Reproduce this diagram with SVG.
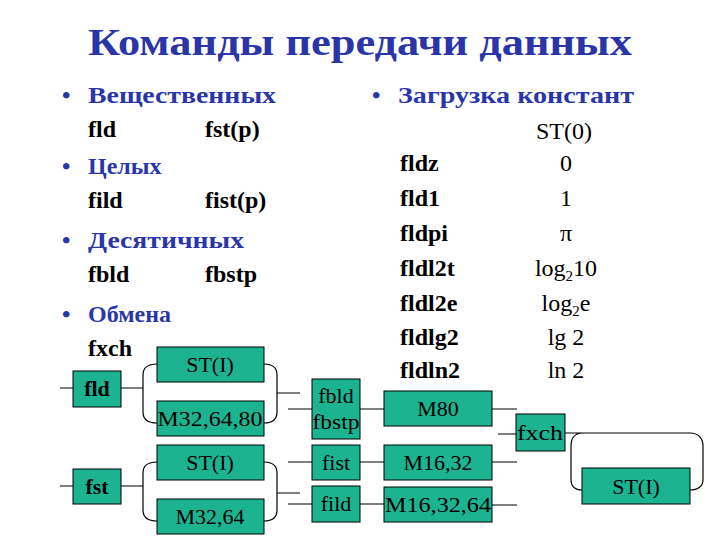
<svg xmlns="http://www.w3.org/2000/svg" width="720" height="540" viewBox="0 0 720 540" font-family="'Liberation Serif', 'Tinos', 'DejaVu Serif', serif">
<style>
.t{font-family:'Liberation Serif','Tinos','DejaVu Serif',serif;font-size:38px;font-weight:bold;fill:#2a35a8}
.h{font-family:'Liberation Serif','Tinos','DejaVu Serif',serif;font-size:24px;font-weight:bold;fill:#2a35a8}
.c{font-family:'Liberation Serif','Tinos','DejaVu Serif',serif;font-size:24px;font-weight:bold;fill:#000}
.v{font-family:'Liberation Serif','Tinos','DejaVu Serif',serif;font-size:24px;fill:#000}
.b{fill:#1cb490;stroke:#000;stroke-width:1}
.bl{font-family:'Liberation Serif','Tinos','DejaVu Serif',serif;font-size:22px;fill:#000;text-anchor:middle}
.bb{font-family:'Liberation Serif','Tinos','DejaVu Serif',serif;font-size:22px;font-weight:bold;fill:#000;text-anchor:middle}
.ln{fill:none;stroke:#000;stroke-width:1.2}
</style>
<rect width="720" height="540" fill="#fff"/>
<text class="t" x="360" y="55" text-anchor="middle" textLength="544" lengthAdjust="spacingAndGlyphs">Команды передачи данных</text>
<g id="left">
<text class="h" x="62" y="103">•</text><text class="h" x="88" y="103" textLength="188" lengthAdjust="spacingAndGlyphs">Вещественных</text>
<text class="c" x="88" y="137">fld</text><text class="c" x="205" y="137">fst(p)</text>
<text class="h" x="62" y="174">•</text><text class="h" x="88" y="174">Целых</text>
<text class="c" x="88" y="208">fild</text><text class="c" x="205" y="208">fist(p)</text>
<text class="h" x="62" y="248">•</text><text class="h" x="88" y="248" textLength="156" lengthAdjust="spacingAndGlyphs">Десятичных</text>
<text class="c" x="88" y="282">fbld</text><text class="c" x="205" y="282">fbstp</text>
<text class="h" x="62" y="322">•</text><text class="h" x="88" y="322">Обмена</text>
<text class="c" x="88" y="356">fxch</text>
</g>
<g id="right">
<text class="h" x="372" y="103">•</text><text class="h" x="398" y="103" textLength="236" lengthAdjust="spacingAndGlyphs">Загрузка констант</text>
<text class="v" x="564" y="139" text-anchor="middle">ST(0)</text>
<text class="c" x="400" y="171">fldz</text><text class="c" x="400" y="206">fld1</text><text class="c" x="400" y="241">fldpi</text><text class="c" x="400" y="276">fldl2t</text><text class="c" x="400" y="311">fldl2e</text><text class="c" x="400" y="345">fldlg2</text><text class="c" x="400" y="378">fldln2</text>
<text class="v" x="566" y="171" text-anchor="middle">0</text><text class="v" x="566" y="206" text-anchor="middle">1</text><text class="v" x="566" y="241" text-anchor="middle">π</text>
<text class="v" x="566" y="276" text-anchor="middle">log<tspan font-size="15" dy="5">2</tspan><tspan dy="-5">10</tspan></text>
<text class="v" x="566" y="311" text-anchor="middle">log<tspan font-size="15" dy="5">2</tspan><tspan dy="-5">e</tspan></text>
<text class="v" x="566" y="345" text-anchor="middle">lg 2</text><text class="v" x="566" y="378" text-anchor="middle">ln 2</text>
</g>
<g id="connectors">
<path class="ln" d="M60 388H73M121 388H143M157 364C147 364 143 368 143 375V412C143 419 147 423 157 423M264 364C273 364 277 368 277 375V412C277 419 273 423 264 423M277 393H300"/>
<path class="ln" d="M60 486H73M121 486H143M157 462C147 462 143 466 143 473V510C143 517 147 521 157 521M264 462C273 462 277 466 277 473V510C277 517 273 521 264 521M277 493H300"/>
<path class="ln" d="M288 409H312M360 409H384M492 409H517M288 462H312M360 462H384M492 462H517M288 504H312M360 504H384M492 505H517M498 434H516"/>
<path class="ln" d="M565 433H690C698 433 703 438 703 446V480C703 486 698 490 690 490M582 490C575 490 571 486 571 480V446C571 438 575 433 583 433"/>
</g>
<g id="fld"><rect class="b" x="73" y="371" width="48" height="36"/><text class="bb" x="97" y="396">fld</text></g>
<g id="fst"><rect class="b" x="73" y="469" width="48" height="35"/><text class="bb" x="97" y="494">fst</text></g>
<g id="st1"><rect class="b" x="157" y="347" width="107" height="35"/><text class="bl" x="210" y="372">ST(I)</text></g>
<g id="m326480"><rect class="b" x="157" y="401" width="107" height="35"/><text class="bl" x="210" y="426" textLength="105" lengthAdjust="spacingAndGlyphs">M32,64,80</text></g>
<g id="st2"><rect class="b" x="157" y="445" width="107" height="35"/><text class="bl" x="210" y="470">ST(I)</text></g>
<g id="m3264"><rect class="b" x="157" y="499" width="107" height="35"/><text class="bl" x="210" y="524">M32,64</text></g>
<g id="fbld"><rect class="b" x="312" y="379" width="48" height="60"/><text class="bl" x="336" y="403">fbld</text><text class="bl" x="336" y="429" textLength="47" lengthAdjust="spacingAndGlyphs">fbstp</text></g>
<g id="fist"><rect class="b" x="312" y="445" width="48" height="35"/><text class="bl" x="336" y="470">fist</text></g>
<g id="fild"><rect class="b" x="312" y="486" width="48" height="36"/><text class="bl" x="336" y="511">fild</text></g>
<g id="m80"><rect class="b" x="384" y="391" width="108" height="35"/><text class="bl" x="438" y="416">M80</text></g>
<g id="m1632"><rect class="b" x="384" y="445" width="108" height="35"/><text class="bl" x="438" y="470">M16,32</text></g>
<g id="m163264"><rect class="b" x="384" y="487" width="108" height="35"/><text class="bl" x="438" y="512" textLength="106" lengthAdjust="spacingAndGlyphs">M16,32,64</text></g>
<g id="fxch"><rect class="b" x="516" y="414" width="49" height="37"/><text class="bl" x="540" y="440" textLength="46" lengthAdjust="spacingAndGlyphs">fxch</text></g>
<g id="st3"><rect class="b" x="582" y="468" width="108" height="36"/><text class="bl" x="636" y="494">ST(I)</text></g>
</svg>
